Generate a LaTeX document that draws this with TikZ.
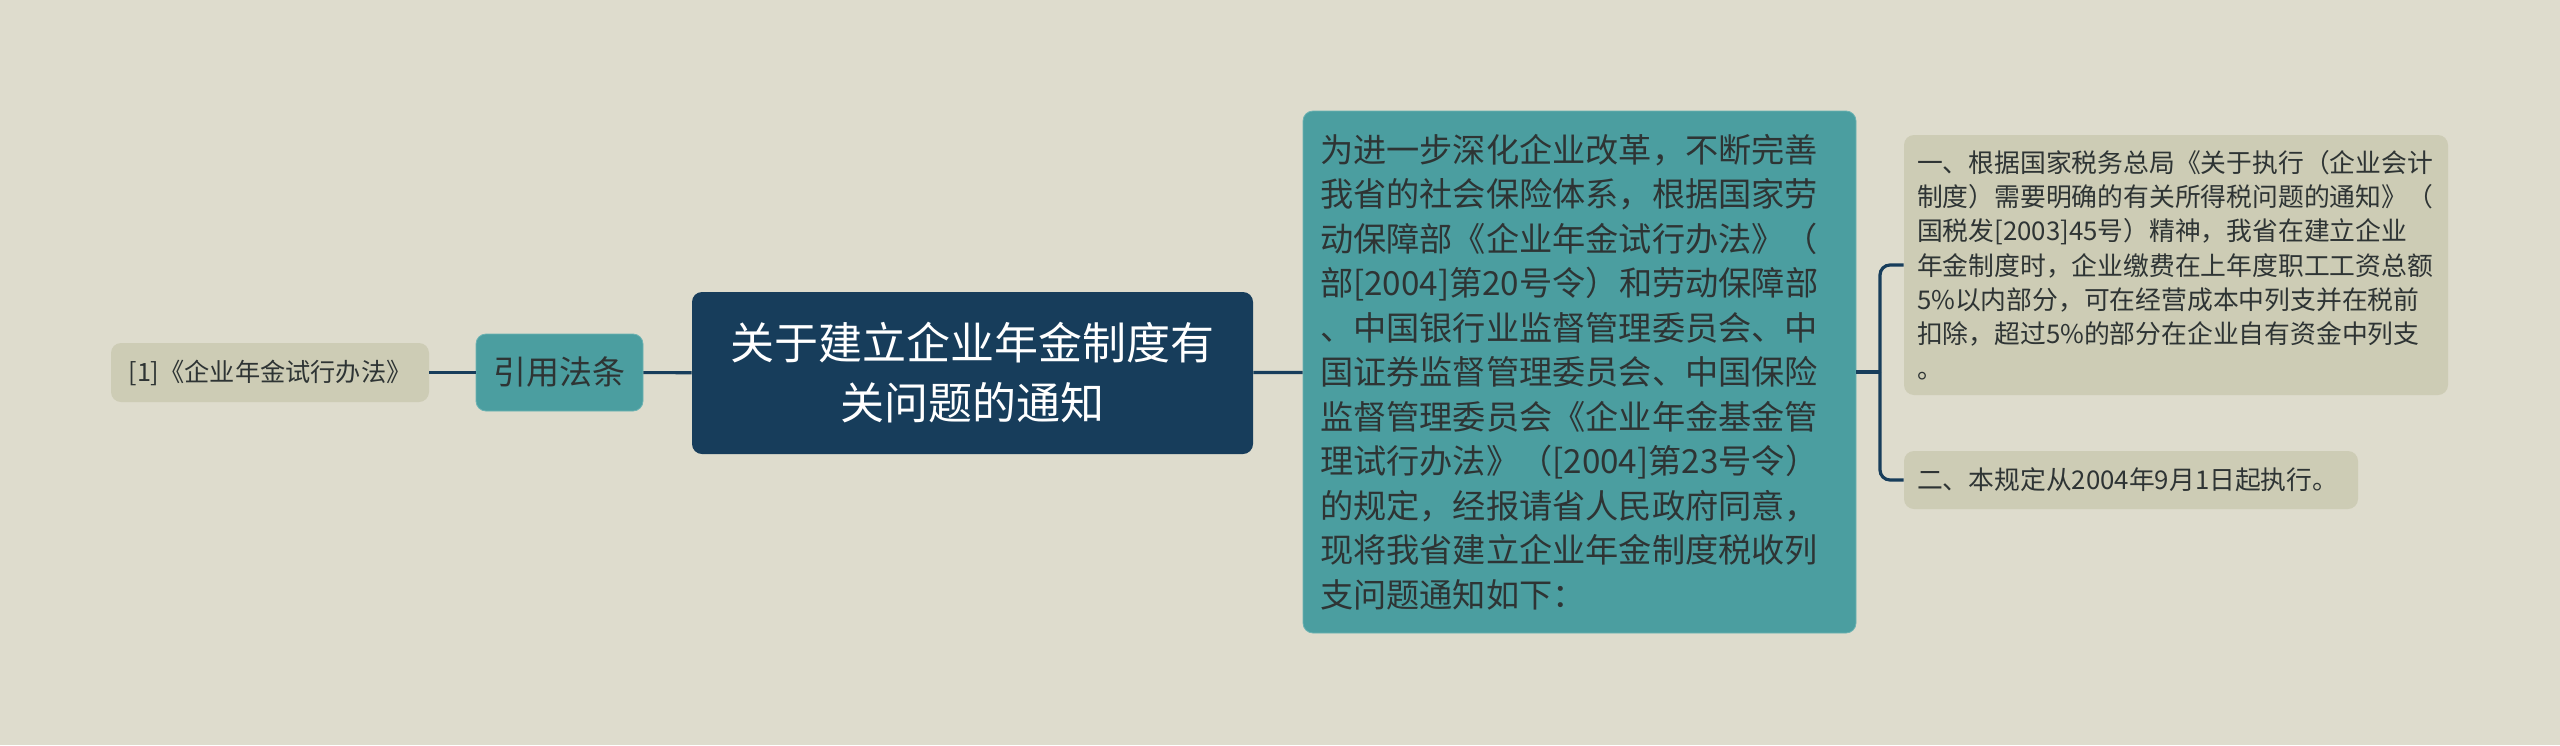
\documentclass[tikz,border=0pt]{standalone}
\usepackage{fontspec}
\newfontfamily\cjk{Noto Sans CJK SC}
\definecolor{bgc}{HTML}{DEDCCD}
\definecolor{leafc}{HTML}{CDCCB5}
\definecolor{navy}{HTML}{173D5B}
\definecolor{tealc}{HTML}{4B9EA0}
\definecolor{tealedge}{HTML}{6CB2B2}
\definecolor{darktxt}{HTML}{2E3434}
\begin{document}
\begin{tikzpicture}[x=0.5pt,y=-0.5pt,
  conn/.style={draw=navy,line width=1.6pt},
  leafbox/.style={fill=leafc,rounded corners=5pt,inner sep=0pt,text=darktxt},
  tealbox/.style={fill=tealc,draw=tealedge,line width=0.4pt,rounded corners=5pt,text=darktxt},
  mainbox/.style={fill=navy,rounded corners=5pt,text=white,inner sep=0pt}]
\fill[bgc] (0,0) rectangle (2560,745);
\useasboundingbox (0,0) rectangle (2560,745);

\node[leafbox,minimum width=159pt,minimum height=29.5pt,font=\cjk\fontsize{12.6pt}{15pt}\selectfont] (leaf) at (270,372.5) {[1]《企业年金试行办法》};

\node[tealbox,inner sep=0pt,minimum width=83.5pt,minimum height=38.5pt,font=\cjk\fontsize{16.5pt}{20pt}\selectfont] (cite) at (559.5,372.5) {引用法条};

\node[mainbox,minimum width=280.5pt,minimum height=81pt,align=center,font=\cjk\fontsize{22pt}{30pt}\selectfont] (main) at (972.5,373) {关于建立企业年金制度有\\关问题的通知};

\node[tealbox,inner xsep=8.5pt,inner ysep=0pt,text width=259.5pt,minimum height=261pt,align=left,font=\cjk\fontsize{16.6pt}{22.25pt}\selectfont] (intro) at (1579.5,372) {为进一步深化企业改革，不断完善\\我省的社会保险体系，根据国家劳\\动保障部《企业年金试行办法》（\\部[2004]第20号令）和劳动保障部\\、中国银行业监督管理委员会、中\\国证券监督管理委员会、中国保险\\监督管理委员会《企业年金基金管\\理试行办法》（[2004]第23号令）\\的规定，经报请省人民政府同意，\\现将我省建立企业年金制度税收列\\支问题通知如下：};

\node[leafbox,inner xsep=6.5pt,inner ysep=0pt,text width=259pt,minimum height=130pt,align=left,font=\cjk\fontsize{12.9pt}{17.15pt}\selectfont] (b1) at (2176,265) {一、根据国家税务总局《关于执行（企业会计\\制度）需要明确的有关所得税问题的通知》（\\国税发[2003]45号）精神，我省在建立企业\\年金制度时，企业缴费在上年度职工工资总额\\5\%以内部分，可在经营成本中列支并在税前\\扣除，超过5\%的部分在企业自有资金中列支\\。};

\node[leafbox,inner xsep=6.5pt,inner ysep=0pt,text width=214pt,minimum height=29pt,align=left,font=\cjk\fontsize{12.9pt}{17pt}\selectfont] (b2) at (2131,480) {二、本规定从2004年9月1日起执行。};

\coordinate (j) at (1880,372);
\draw[conn] (leaf) -- (cite);
\draw[conn] (cite) -- (main);
\draw[conn] (main) -- (intro);
\draw[conn] (intro.east) -- (j);
\draw[conn,rounded corners=5pt] (j) |- (b1.west);
\draw[conn,rounded corners=5pt] (j) |- (b2.west);
\end{tikzpicture}
\end{document}
